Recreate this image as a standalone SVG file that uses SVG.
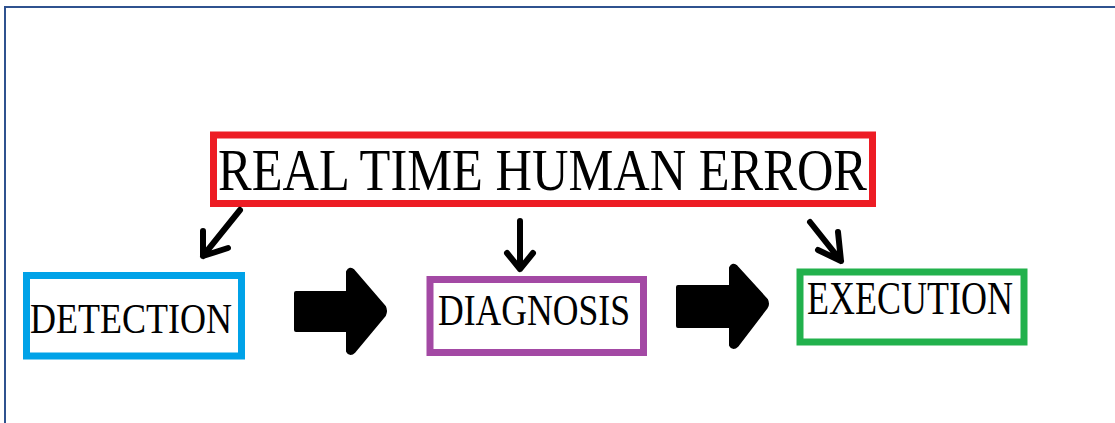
<svg xmlns="http://www.w3.org/2000/svg" width="1115" height="423" viewBox="0 0 1115 423">
  <style>
    .box { fill: #ffffff; stroke-width: 7; }
    .label { font-family: "Liberation Serif", "Times New Roman", serif; fill: #000000; }
    .pointer { fill: none; stroke: #000000; stroke-width: 6; stroke-linecap: round; stroke-linejoin: round; }
    .block { fill: #000000; stroke: #000000; stroke-width: 4; stroke-linejoin: round; }
  </style>
  <rect width="1115" height="423" fill="#ffffff"/>
  <!-- page frame -->
  <path d="M5 423 V7 H1115" fill="none" stroke="#2f528f" stroke-width="2"/>

  <g id="root">
    <rect class="box" x="213.5" y="135" width="659" height="68.5" stroke="#ed1c24"/>
    <text class="label" x="218" y="190" font-size="60" textLength="649" lengthAdjust="spacingAndGlyphs">REAL TIME HUMAN ERROR</text>
  </g>

  <g id="detection">
    <rect class="box" x="26.5" y="275.5" width="215" height="80.5" stroke="#00a2e8"/>
    <text class="label" x="30" y="333" font-size="42" textLength="202" lengthAdjust="spacingAndGlyphs">DETECTION</text>
  </g>

  <g id="diagnosis">
    <rect class="box" x="430" y="279.5" width="213.5" height="73" stroke="#a349a4"/>
    <text class="label" x="438" y="325" font-size="44" textLength="192" lengthAdjust="spacingAndGlyphs">DIAGNOSIS</text>
  </g>

  <g id="execution">
    <rect class="box" x="800" y="272" width="224" height="70" stroke="#22b14c"/>
    <text class="label" x="807" y="314" font-size="46" textLength="206" lengthAdjust="spacingAndGlyphs">EXECUTION</text>
  </g>

  <g id="connectors">
    <!-- pointers from the root box -->
    <path class="pointer" d="M240 210 L203 256 M203 231 L203 256 L228 248"/>
    <path class="pointer" d="M520 221 L520 269 M507 253 L520 269 L533 253"/>
    <path class="pointer" d="M810 222 L841 261 M838 232 L841 261 L818 250"/>
    <!-- block arrows between stages -->
    <path class="block" d="M296 293 H348 V272 Q350 268 353 271 L384 307 Q386 311 384 315 L354 351 Q350 355 348 351 V330 H296 Z"/>
    <path class="block" d="M678 287 H731 V268 Q733 264 736 267 L766 300 Q768 304 766 307 L737 345 Q733 349 731 345 V326 H678 Z"/>
  </g>
</svg>
